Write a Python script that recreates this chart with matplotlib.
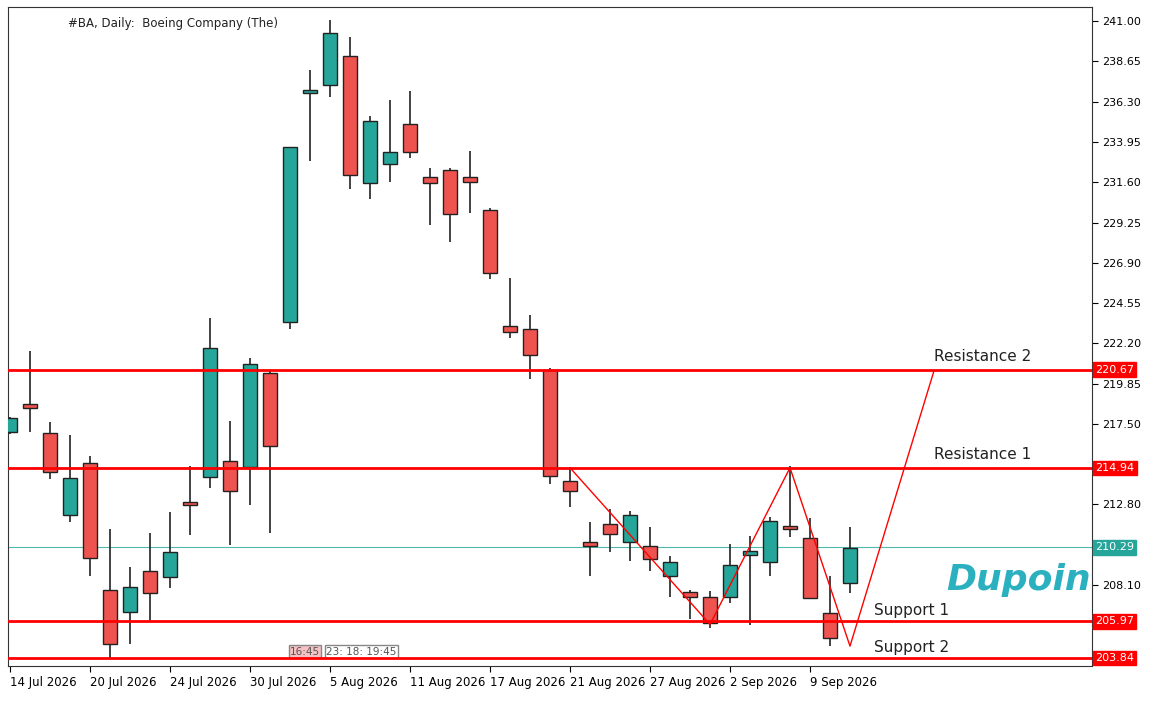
import matplotlib
matplotlib.use("Agg")
import matplotlib.pyplot as plt
from matplotlib.patches import Rectangle

opens  = [217.04,218.6,216.96,212.18,215.23,207.81,206.5,208.94,208.54,212.9,214.42,215.34,214.97,220.46,223.44,236.85,237.27,238.97,231.54,232.69,235.0,231.9,232.33,231.9,229.99,223.2,223.05,220.67,214.14,210.63,211.65,210.63,210.35,208.65,207.7,207.37,207.39,209.82,209.46,211.55,210.82,206.45,208.2]
highs  = [217.9,221.74,217.59,216.83,215.6,211.34,209.12,211.16,212.33,215.05,223.68,217.69,221.32,220.6,233.66,238.13,241.08,240.09,235.46,236.4,236.95,232.43,232.46,233.4,230.08,226.03,223.83,220.75,214.94,211.78,212.52,212.39,211.47,209.77,207.81,207.76,210.5,210.95,212.07,215.05,211.99,208.6,211.47]
lows   = [216.9,217.0,214.29,211.78,208.6,203.84,204.67,205.98,207.94,211.03,213.74,210.42,212.78,211.16,223.02,232.85,236.56,231.2,230.63,231.6,233.03,229.1,228.12,229.82,225.98,222.53,220.1,214.0,212.65,208.6,210.03,209.51,208.93,207.42,206.11,205.59,207.03,205.77,208.65,210.9,207.31,204.54,207.65]
closes = [217.82,218.5,214.68,214.37,209.67,204.65,207.97,207.65,210.03,212.8,221.9,213.56,220.98,216.23,233.66,236.9,240.3,232.04,235.15,233.37,233.37,231.57,229.77,231.62,226.3,222.87,221.51,214.45,213.56,210.4,211.08,212.18,209.59,209.43,207.37,205.9,209.27,210.11,211.86,211.34,207.31,205.01,210.27]
date_labels = ["14 Jul 2026","20 Jul 2026","24 Jul 2026","30 Jul 2026","5 Aug 2026","11 Aug 2026","17 Aug 2026","21 Aug 2026","27 Aug 2026","2 Sep 2026","9 Sep 2026"]
price_ticks = [241.00,238.65,236.30,233.95,231.60,229.25,226.90,224.55,222.20,219.85,217.50,212.80,208.10]
levels = [220.67,214.94,205.97,203.84]
level_names = ["Resistance 2","Resistance 1","Support 1","Support 2"]
current = 210.29
zz_x = [28, 35, 39, 42, 46.2]
zz_y = [214.94, 205.8, 214.94, 204.53, 220.6]

TEAL = "#26A69A"; RED = "#EF5350"
fig = plt.figure(figsize=(11.53,7.03), dpi=100)
W,H = 1153,703
ax = fig.add_axes([8/W, 1-666/H, (1092-8)/W, (666-7)/H])
ax.set_xlim(-0.1, 54.1)
ax.set_ylim(203.37, 241.83)

for i,(o,h,l,c) in enumerate(zip(opens,highs,lows,closes)):
    ax.vlines(i, l, h, color="#222222", lw=1.2, zorder=2)
    col = TEAL if c > o else (RED if c < o else "#222222")
    b, t = min(o,c), max(o,c)
    if t-b < 0.12:
        b -= 0.06; t += 0.06
    ax.add_patch(Rectangle((i-0.33,b),0.66,t-b,facecolor=col,edgecolor="#222222",lw=1,zorder=3))

for lv in levels:
    ax.axhline(lv, color="red", lw=2, zorder=4)
ax.axhline(current, color=TEAL, lw=0.8, alpha=0.8, zorder=1)
ax.plot(zz_x, zz_y, color="red", lw=1, zorder=5)

ax.text(46.2, 220.67+0.35, level_names[0], fontsize=11, color="#222222", va="bottom")
ax.text(46.2, 214.94+0.35, level_names[1], fontsize=11, color="#222222", va="bottom")
ax.text(43.2, 205.97+0.2, level_names[2], fontsize=11, color="#222222", va="bottom")
ax.text(43.2, 203.84+0.2, level_names[3], fontsize=11, color="#222222", va="bottom")

ax.yaxis.tick_right()
ax.set_yticks(price_ticks)
ax.set_yticklabels([f"{p:.2f}" for p in price_ticks], fontsize=8)
ax.set_xticks(range(0, 44, 4))
ax.set_xticklabels(date_labels, fontsize=8.5, ha="left")
ax.tick_params(axis="x", length=4, pad=3)
ax.tick_params(axis="y", length=4, pad=3)
for s in ax.spines.values():
    s.set_color("#333333")

for lv in levels:
    ax.text(1.003, lv, f"{lv:.2f}", transform=ax.get_yaxis_transform(), fontsize=8, color="white",
            va="center", ha="left", bbox=dict(boxstyle="square,pad=0.2", fc="red", ec="red"), clip_on=False)
ax.text(1.003, current, f"{current:.2f}", transform=ax.get_yaxis_transform(), fontsize=8, color="white",
        va="center", ha="left", bbox=dict(boxstyle="square,pad=0.2", fc=TEAL, ec=TEAL), clip_on=False)

ax.text(0.055, 0.985, "#BA, Daily:  Boeing Company (The)", transform=ax.transAxes, fontsize=8.5, va="top", color="#222222")
ax.text(14, 203.84+0.2, "16:45", fontsize=7.5, color="#555555", bbox=dict(fc="#f4c2c2", ec="#888888", pad=1))
ax.text(15.8, 203.84+0.2, "23: 18: 19:45", fontsize=7.5, color="#555555", bbox=dict(fc="white", ec="#888888", pad=1))
ax.text(46.8, 208.4, "Dupoin", fontsize=26, color="#2bb0c0", style="italic", fontweight="bold", ha="left", va="center")
fig.savefig("out.png", dpi=100)
